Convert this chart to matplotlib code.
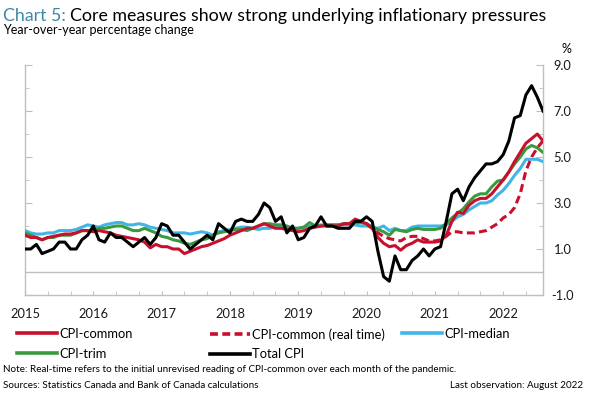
import numpy as np
import matplotlib
matplotlib.use("Agg")
import matplotlib.pyplot as plt
from matplotlib.lines import Line2D

plt.rcParams['font.family'] = ['Lato', 'DejaVu Sans']

# monthly data, Jan 2015 .. Aug 2022
years = [2015, 2016, 2017, 2018, 2019, 2020, 2021, 2022]

total_cpi = [1.0, 1.0, 1.2, 0.8, 0.9, 1.0, 1.3, 1.3, 1.0, 1.0, 1.4, 1.6,
             2.0, 1.4, 1.3, 1.7, 1.5, 1.5, 1.3, 1.1, 1.3, 1.5, 1.2, 1.5,
             2.1, 2.0, 1.6, 1.6, 1.3, 1.0, 1.2, 1.4, 1.6, 1.4, 2.1, 1.9,
             1.7, 2.2, 2.3, 2.2, 2.2, 2.5, 3.0, 2.8, 2.2, 2.4, 1.7, 2.0,
             1.4, 1.5, 1.9, 2.0, 2.4, 2.0, 2.0, 1.9, 1.9, 1.9, 2.2, 2.2,
             2.4, 2.2, 0.9, -0.2, -0.4, 0.7, 0.1, 0.1, 0.5, 0.7, 1.0, 0.7,
             1.0, 1.1, 2.2, 3.4, 3.6, 3.1, 3.7, 4.1, 4.4, 4.7, 4.7, 4.8,
             5.1, 5.7, 6.7, 6.8, 7.7, 8.1, 7.6, 7.0]

cpi_common = [1.6, 1.5, 1.5, 1.4, 1.5, 1.55, 1.6, 1.65, 1.65, 1.7, 1.8, 1.8,
              1.75, 1.8, 1.75, 1.7, 1.6, 1.55, 1.5, 1.45, 1.4, 1.3, 1.05, 1.2,
              1.1, 1.1, 1.0, 1.0, 0.8, 0.9, 1.0, 1.1, 1.15, 1.25, 1.35, 1.45,
              1.6, 1.7, 1.8, 1.9, 1.9, 2.0, 2.1, 2.0, 1.9, 1.9, 1.85, 1.8,
              1.75, 1.8, 1.9, 1.95, 2.0, 2.0, 2.0, 2.0, 2.1, 2.1, 2.3, 2.2,
              2.1, 1.9, 1.5, 1.25, 1.1, 1.15, 0.95, 1.15, 1.25, 1.4, 1.3, 1.3,
              1.3, 1.35, 1.6, 2.2, 2.6, 2.55, 2.9, 3.1, 3.2, 3.2, 3.4, 3.7,
              4.0, 4.35, 4.8, 5.2, 5.6, 5.8, 6.0, 5.7]

# real-time reading, Jan 2020 .. Aug 2022
cpi_common_rt = [2.1, 1.9, 1.7, 1.55, 1.45, 1.4, 1.35, 1.5, 1.55, 1.55, 1.45, 1.35,
                 1.35, 1.4, 1.55, 1.75, 1.75, 1.7, 1.7, 1.7, 1.75, 1.8, 1.95, 2.1,
                 2.35, 2.5, 2.8, 3.4, 4.4, 5.0, 5.4, 5.7]

cpi_trim = [1.7, 1.6, 1.5, 1.4, 1.5, 1.5, 1.6, 1.6, 1.6, 1.7, 1.8, 1.8,
            1.8, 1.9, 1.9, 1.95, 2.0, 2.0, 1.9, 1.8, 1.8, 1.9, 1.8, 1.7,
            1.55, 1.5, 1.4, 1.35, 1.25, 1.2, 1.3, 1.4, 1.45, 1.6, 1.7, 1.75,
            1.8, 1.85, 1.85, 1.8, 1.9, 2.0, 2.1, 2.1, 2.05, 2.05, 2.0, 1.9,
            1.9, 1.95, 2.15, 2.0, 2.0, 2.05, 2.05, 2.05, 2.1, 2.1, 2.15, 2.15,
            2.1, 1.95, 1.85, 1.75, 1.6, 1.85, 1.8, 1.75, 1.85, 1.9, 1.85, 1.85,
            1.85, 1.9, 2.1, 2.35, 2.55, 2.75, 3.05, 3.3, 3.4, 3.4, 3.7, 3.95,
            4.0, 4.35, 4.7, 5.0, 5.35, 5.5, 5.4, 5.2]

cpi_median = [1.8, 1.7, 1.65, 1.65, 1.7, 1.7, 1.8, 1.8, 1.8, 1.85, 1.95, 2.05,
              2.0, 1.95, 2.05, 2.1, 2.15, 2.15, 2.05, 2.05, 2.1, 2.05, 1.95, 1.9,
              1.85, 1.8, 1.7, 1.7, 1.7, 1.65, 1.7, 1.75, 1.7, 1.6, 1.75, 1.8,
              1.85, 1.9, 1.95, 1.95, 1.9, 1.85, 1.9, 1.9, 1.95, 1.95, 1.95, 1.9,
              1.9, 1.95, 2.0, 2.0, 2.05, 2.05, 2.05, 2.05, 2.05, 2.05, 2.05, 2.0,
              2.0, 1.95, 1.9, 2.0, 1.8, 1.9, 1.8, 1.8, 1.95, 2.0, 2.0, 2.0,
              2.0, 2.0, 2.05, 2.2, 2.4, 2.5, 2.7, 2.85, 3.0, 3.0, 3.1, 3.35,
              3.55, 3.85, 4.2, 4.5, 4.9, 4.9, 4.9, 4.8]

months = np.arange(len(total_cpi))
months_rt = months[-len(cpi_common_rt):]

RED = '#C8102E'
BLUE = '#41B6E6'
GREEN = '#3A9A3F'
GREY = '#BFBFBF'
TEAL = '#3C88A8'

fig = plt.figure(figsize=(5.91, 3.95), dpi=100)
ax = fig.add_axes([25 / 591, 100 / 395, 518 / 591, 230 / 395])

ax.axhline(0, color=GREY, lw=1, zorder=1)
lw = 2.2
ax.plot(months, cpi_median, color=BLUE, lw=lw, zorder=3)
ax.plot(months, cpi_trim, color=GREEN, lw=lw, zorder=4)
ax.plot(months_rt, cpi_common_rt, color=RED, lw=lw, ls=(0, (2.6, 1.4)), zorder=5)
ax.plot(months, cpi_common, color=RED, lw=lw, zorder=6)
ax.plot(months, total_cpi, color='black', lw=lw, zorder=7)

ax.set_xlim(0, 91)
ax.set_ylim(-1, 9)

ax.spines['top'].set_visible(False)
for s in ['left', 'right', 'bottom']:
    ax.spines[s].set_color(GREY)
    ax.spines[s].set_linewidth(1)

ax.set_xticks([12 * i for i in range(len(years))])
ax.set_xticklabels([str(y) for y in years])
ax.set_xticks(np.arange(0, 92, 4), minor=True)
ax.tick_params(axis='x', which='both', direction='in', length=3, color=GREY,
               labelsize=9.3, pad=9, labelcolor='#1a1a1a')

ax.set_yticks(np.arange(-1, 10, 2))
ax.set_yticks(np.arange(-1, 10, 1), minor=True)
ax.set_yticklabels(['%.1f' % v for v in np.arange(-1, 10, 2)])
ax.tick_params(axis='y', which='both', direction='in', color=GREY,
               left=True, right=True, labelleft=False, labelright=True,
               labelsize=9.3, labelcolor='#1a1a1a')
ax.tick_params(axis='y', which='major', length=5, pad=14)
ax.tick_params(axis='y', which='minor', length=3)
for lab in ax.get_yticklabels():
    lab.set_horizontalalignment('center')

# title
t1 = fig.text(3 / 591, 1 - 21 / 395, 'Chart 5:', color=TEAL, fontsize=12.8, va='baseline')
fig.canvas.draw()
bb = t1.get_window_extent()
fig.text((bb.x1 + 4) / 591, 1 - 21 / 395,
         'Core measures show strong underlying inflationary pressures',
         color='black', fontsize=12.8, va='baseline')
fig.text(3 / 591, 1 - 34 / 395, 'Year-over-year percentage change', fontsize=9, va='baseline')
fig.text(566 / 591, 1 - 53 / 395, '%', fontsize=9, ha='center', va='baseline')

# legend in three columns
def h(color, ls='-'):
    return Line2D([], [], color=color, lw=2.6, ls=ls)

leg_kw = dict(frameon=False, fontsize=9.3, handlelength=3.1, handletextpad=0.15,
              borderpad=0, borderaxespad=0, labelspacing=0.6, loc='upper left')
top = 1 - 328 / 395
fig.legend([h(RED), h(GREEN)], ['CPI-common', 'CPI-trim'],
           bbox_to_anchor=(17 / 591, top), **leg_kw)
fig.legend([h(RED, (0, (2.2, 1.2))), h('black')], ['CPI-common (real time)', 'Total CPI'],
           bbox_to_anchor=(210 / 591, top), **leg_kw)
fig.legend([h(BLUE)], ['CPI-median'],
           bbox_to_anchor=(402 / 591, top), **leg_kw)

fig.text(3 / 591, 1 - 369 / 395,
         'Note: Real-time refers to the initial unrevised reading of CPI-common over each month of the pandemic.',
         fontsize=7.15, va='center')
fig.text(3 / 591, 1 - 385 / 395, 'Sources: Statistics Canada and Bank of Canada calculations',
         fontsize=7.15, va='center')
fig.text(583 / 591, 1 - 385 / 395, 'Last observation: August 2022',
         fontsize=7.15, va='center', ha='right')

fig.savefig('out.png', dpi=100)
